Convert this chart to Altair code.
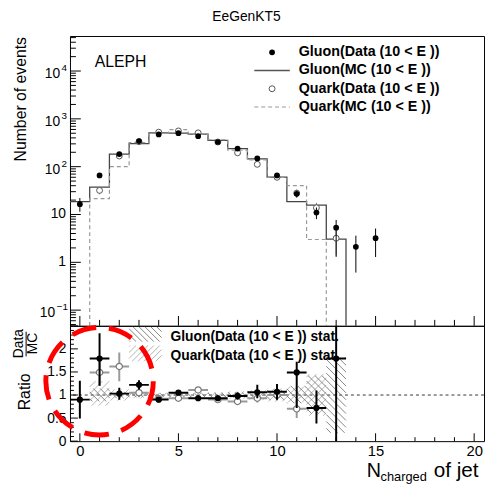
import math
import altair as alt
import pandas as pd

# ---------------------------------------------------------------
# Charged multiplicity of jets (10 < E), gluon and quark samples
# ---------------------------------------------------------------
gluon_data_n = list(range(0, 16))
gluon_data_val = [16.4, 65.6, 183, 343, 472, 501, 435, 328, 239, 149, 65.6, 27.1, 11.0, 5.3, 2.11, 3.19]
gluon_data_elo = [5.0, 7, 12, 17, 20, 21, 20, 17, 15, 12, 7, 4.5, 3.0, 4.0, 1.5, 1.9]
gluon_data_ehi = [5.7, 7, 12, 17, 20, 21, 20, 17, 15, 12, 7, 4.5, 3.0, 2.4, 1.5, 1.9]

quark_data_n = list(range(1, 14))
quark_data_val = [31.9, 167, 333, 526, 559, 509, 328, 195, 112, 60, 28, 13.8, 3.19]
quark_data_err = [5.5, 12, 18, 23, 23, 22, 18, 14, 10, 7.5, 5, 3.7, 1.8]

# MC histograms (bin n spans n-0.5 .. n+0.5)
gluon_mc_n = list(range(0, 14))
gluon_mc_val = [18.6, 37.2, 183, 302, 509, 501, 478, 355, 239, 145, 60.6, 18.6, 15.7, 3.04]
quark_mc_n = list(range(1, 13))
quark_mc_val = [21.4, 100, 317, 500, 597, 478, 365, 221, 138, 59.7, 40.3, 3.0]

# Data / MC ratios
gluon_ratio_n = list(range(0, 14))
gluon_ratio = [0.90, 1.79, 1.03, 1.22, 0.90, 1.05, 0.93, 0.93, 0.98, 1.06, 1.07, 1.49, 0.72, 1.79]
gluon_ratio_lo = [0.49, 1.20, 0.90, 1.12, 0.85, 1.00, 0.88, 0.87, 0.90, 0.93, 0.90, 0.72, 0.38, 0.0]
gluon_ratio_hi = [1.31, 2.34, 1.16, 1.32, 0.95, 1.10, 0.99, 0.99, 1.06, 1.22, 1.24, 1.72, 1.10, 3.0]
quark_ratio_n = list(range(1, 12))
quark_ratio = [1.49, 1.62, 1.05, 0.92, 0.93, 1.11, 0.90, 0.86, 0.93, 1.00, 0.70]
quark_ratio_lo = [1.20, 1.30, 0.95, 0.86, 0.88, 1.05, 0.84, 0.79, 0.84, 0.88, 0.50]
quark_ratio_hi = [1.80, 1.92, 1.15, 0.98, 0.98, 1.17, 0.96, 0.93, 1.02, 1.12, 0.90]

# MC statistical uncertainty bands around 1
gluon_band_n = list(range(1, 14))
gluon_band_lo = [0.86, 0.93, 0.95, 0.96, 0.96, 0.96, 0.95, 0.94, 0.92, 0.89, 0.82, 0.60, 0.18]
gluon_band_hi = [1.14, 1.07, 1.05, 1.04, 1.04, 1.04, 1.05, 1.06, 1.08, 1.11, 1.20, 1.42, 1.82]
quark_band_n = list(range(1, 13))
quark_band_lo = [0.77, 0.88, 0.93, 0.95, 0.95, 0.95, 0.94, 0.92, 0.90, 0.86, 0.84, 0.55]
quark_band_hi = [1.30, 1.12, 1.07, 1.05, 1.05, 1.05, 1.06, 1.08, 1.10, 1.14, 1.18, 1.45]

legend_labels = ["Gluon(Data (10 < E ))", "Gluon(MC (10 < E ))",
                 "Quark(Data (10 < E ))", "Quark(MC (10 < E ))"]
ratio_legend_labels = ["Gluon(Data (10 < E )) stat.", "Quark(Data (10 < E )) stat."]

# ---------------------------------------------------------------
# layout
# ---------------------------------------------------------------
W, H_TOP, H_RAT = 420, 294, 117
X_DOM = [-0.5, 20.5]
Y_TOP = [0.047, 54000]
Y_RAT = [0.0, 2.5]
FONT = "Liberation Sans"
SX = W / (X_DOM[1] - X_DOM[0])
SY = H_RAT / (Y_RAT[1] - Y_RAT[0])

xs = alt.Scale(domain=X_DOM, nice=False, zero=False)
yts = alt.Scale(type="log", domain=Y_TOP, nice=False)
yrs = alt.Scale(domain=Y_RAT, nice=False, zero=False)

x_axis = alt.Axis(values=[0, 5, 10, 15, 20], ticks=False, domain=False, grid=False,
                  labelFontSize=15, labelPadding=3, labelFlush=False, title=None,
                  labelColor="black")
y_axis = alt.Axis(values=[0, 0.5, 1, 1.5, 2], format="~g", ticks=False, domain=False,
                  grid=False, labelFontSize=14, labelPadding=4, title=None,
                  labelColor="black")


def X(f, **kw):
    return alt.X(f, type="quantitative", scale=xs, axis=None, **kw)


def XB(f, **kw):
    return alt.X(f, type="quantitative", scale=xs, axis=x_axis, **kw)


def YT(f, **kw):
    return alt.Y(f, type="quantitative", scale=yts, axis=None, **kw)


def YR(f, **kw):
    return alt.Y(f, type="quantitative", scale=yrs, axis=y_axis, **kw)


def pin():
    # fixes the outer corner of the drawing so both panels line up
    return alt.Chart(pd.DataFrame({"a": [0]})).mark_rule(strokeOpacity=0).encode(
        x=alt.value(-70), x2=alt.value(-70), y=alt.value(-32), y2=alt.value(-32))


def hatch(rects, step, rising):
    """Diagonal hatch segments (pixel space, y up) clipped to rectangles."""
    segs = []
    for (x0, x1, y0, y1) in rects:
        if rising:
            cmin, cmax = y0 - x1, y1 - x0
        else:
            cmin, cmax = y0 + x0, y1 + x1
        for k in range(math.ceil(cmin / step), math.floor(cmax / step) + 1):
            c = k * step
            if rising:
                a, b = max(x0, y0 - c), min(x1, y1 - c)
                if b > a:
                    segs.append((a, a + c, b, b + c))
            else:
                a, b = max(x0, c - y1), min(x1, c - y0)
                if b > a:
                    segs.append((a, c - a, b, c - b))
    return pd.DataFrame(
        [{"x": X_DOM[0] + s[0] / SX, "y": s[1] / SY,
          "x2": X_DOM[0] + s[2] / SX, "y2": s[3] / SY} for s in segs])


def band_rects(ns, lo, hi):
    return [((n - 0.5 - X_DOM[0]) * SX, (n + 0.5 - X_DOM[0]) * SX, l * SY, h * SY)
            for n, l, h in zip(ns, lo, hi)]


def hatch_layer(df, color):
    return alt.Chart(df).mark_rule(color=color, strokeWidth=0.9, clip=True).encode(
        x=XB("x"), x2="x2", y=YR("y"), y2="y2")


# ---------------------------------------------------------------
# upper panel: distributions
# ---------------------------------------------------------------
g_steps = pd.DataFrame({
    "i": list(range(len(gluon_mc_n) + 1)),
    "x": [n - 0.5 for n in gluon_mc_n] + [gluon_mc_n[-1] + 0.5],
    "y": gluon_mc_val + [Y_TOP[0]]})
q_steps = pd.DataFrame({
    "i": list(range(len(quark_mc_n) + 2)),
    "x": [quark_mc_n[0] - 0.5] + [n - 0.5 for n in quark_mc_n] + [quark_mc_n[-1] + 0.5],
    "y": [Y_TOP[0]] + quark_mc_val + [Y_TOP[0]]})

gdf = pd.DataFrame({"n": gluon_data_n, "v": gluon_data_val,
                    "lo": [v - e for v, e in zip(gluon_data_val, gluon_data_elo)],
                    "hi": [v + e for v, e in zip(gluon_data_val, gluon_data_ehi)]})
qdf = pd.DataFrame({"n": quark_data_n, "v": quark_data_val,
                    "lo": [v - e for v, e in zip(quark_data_val, quark_data_err)],
                    "hi": [v + e for v, e in zip(quark_data_val, quark_data_err)]})

g_line = alt.Chart(g_steps).mark_line(interpolate="step-after", color="#444", strokeWidth=1.3,
                                      clip=True).encode(x=X("x"), y=YT("y"), order="i:Q")
q_line = alt.Chart(q_steps).mark_line(interpolate="step-after", color="#999", strokeWidth=1.2,
                                      strokeDash=[4, 3], clip=True).encode(
    x=X("x"), y=YT("y"), order="i:Q")

q_err = alt.Chart(qdf).mark_rule(color="#777", strokeWidth=1, clip=True).encode(
    x=X("n"), y=YT("lo"), y2="hi")
q_pts = alt.Chart(qdf).mark_point(shape="circle", filled=True, fill="white", stroke="#555",
                                  strokeWidth=1, size=36, opacity=1).encode(x=X("n"), y=YT("v"))
g_err = alt.Chart(gdf).mark_rule(color="black", strokeWidth=1, clip=True).encode(
    x=X("n"), y=YT("lo"), y2="hi")
g_pts = alt.Chart(gdf).mark_point(shape="circle", filled=True, color="black", size=34,
                                  opacity=1).encode(x=X("n"), y=YT("v"))

# axis furniture: inward ticks
log_major = [10.0 ** e for e in range(-1, 5)]
log_minor = [m * 10.0 ** e for e in range(-2, 5) for m in range(2, 10)
             if Y_TOP[0] <= m * 10.0 ** e <= Y_TOP[1]]
x_major = [v for v in range(0, 21, 5)]
x_minor = [v for v in range(0, 21) if v % 5]

top_ticks = [
    alt.Chart(pd.DataFrame({"v": log_major})).mark_rule(color="black").encode(
        y=YT("v"), x=alt.value(0), x2=alt.value(11)),
    alt.Chart(pd.DataFrame({"v": log_minor})).mark_rule(color="black").encode(
        y=YT("v"), x=alt.value(0), x2=alt.value(6)),
    alt.Chart(pd.DataFrame({"v": x_major})).mark_rule(color="black").encode(
        x=X("v"), y=alt.value(H_TOP), y2=alt.value(H_TOP - 10)),
    alt.Chart(pd.DataFrame({"v": x_minor})).mark_rule(color="black").encode(
        x=X("v"), y=alt.value(H_TOP), y2=alt.value(H_TOP - 6)),
]

# log axis labels: mantissa "10" with a raised exponent
ylab = pd.DataFrame({"v": log_major,
                     "base": ["10", "1", "10", "10", "10", "10"],
                     "sup": ["\u22121", "", "", "2", "3", "4"]})
top_labels = [
    alt.Chart(ylab).transform_filter("datum.sup == ''").mark_text(
        align="right", baseline="middle", fontSize=14).encode(
        y=YT("v"), x=alt.value(-4), text="base:N"),
    alt.Chart(ylab).transform_filter("length(datum.sup) == 1").mark_text(
        align="right", baseline="middle", fontSize=14, dy=3).encode(
        y=YT("v"), x=alt.value(-10), text="base:N"),
    alt.Chart(ylab).transform_filter("length(datum.sup) == 1").mark_text(
        align="right", baseline="middle", fontSize=10, dy=-3).encode(
        y=YT("v"), x=alt.value(-3), text="sup:N"),
    alt.Chart(ylab).transform_filter("length(datum.sup) == 2").mark_text(
        align="right", baseline="middle", fontSize=14, dy=3).encode(
        y=YT("v"), x=alt.value(-15), text="base:N"),
    alt.Chart(ylab).transform_filter("length(datum.sup) == 2").mark_text(
        align="right", baseline="middle", fontSize=10, dy=-3).encode(
        y=YT("v"), x=alt.value(-2), text="sup:N"),
]

one = pd.DataFrame({"a": [0]})
top_text = [
    alt.Chart(one).mark_text(align="center", baseline="alphabetic", fontSize=14).encode(
        x=alt.value(179), y=alt.value(-15), text=alt.value("EeGenKT5")),
    alt.Chart(one).mark_text(align="left", baseline="alphabetic", fontSize=16).encode(
        x=alt.value(25), y=alt.value(31), text=alt.value("ALEPH")),
    alt.Chart(one).mark_text(align="right", baseline="middle", angle=270, fontSize=16).encode(
        x=alt.value(-50), y=alt.value(1), text=alt.value("Number of events")),
]

# legend
leg_y = [16.5, 35, 53.5, 72]
top_legend = [
    alt.Chart(one).mark_point(shape="circle", filled=True, color="black", size=34, opacity=1).encode(
        x=alt.value(205), y=alt.value(leg_y[0])),
    alt.Chart(one).mark_rule(color="#555", strokeWidth=1.3).encode(
        x=alt.value(187), x2=alt.value(223), y=alt.value(leg_y[1])),
    alt.Chart(one).mark_point(shape="circle", filled=True, fill="white", stroke="#555",
                              strokeWidth=1, size=36, opacity=1).encode(
        x=alt.value(205), y=alt.value(leg_y[2])),
    alt.Chart(one).mark_rule(color="#999", strokeWidth=1.2, strokeDash=[4, 3]).encode(
        x=alt.value(187), x2=alt.value(223), y=alt.value(leg_y[3])),
]
for lab, yy in zip(legend_labels, leg_y):
    top_legend.append(
        alt.Chart(one).mark_text(align="left", baseline="middle", fontSize=14.5,
                                 fontWeight="bold").encode(
            x=alt.value(232), y=alt.value(yy), text=alt.value(lab)))

top = alt.layer(pin(), g_line, q_line, q_err, q_pts, g_err, g_pts,
                *top_ticks, *top_labels, *top_text, *top_legend).properties(
    width=W, height=H_TOP)

# ---------------------------------------------------------------
# lower panel: Data / MC
# ---------------------------------------------------------------
g_hatch = hatch(band_rects(gluon_band_n, gluon_band_lo, gluon_band_hi), 7, False)
q_hatch = hatch(band_rects(quark_band_n, quark_band_lo, quark_band_hi), 7, True)

# legend boxes (pixel rectangles, y measured from the panel bottom)
g_box = hatch([(60, 93, H_RAT - 16, H_RAT - 1)], 6, False)
q_box = hatch([(60, 93, H_RAT - 36, H_RAT - 20)], 6, True)

grdf = pd.DataFrame({"n": gluon_ratio_n, "r": gluon_ratio,
                     "lo": gluon_ratio_lo, "hi": gluon_ratio_hi})
qrdf = pd.DataFrame({"n": quark_ratio_n, "r": quark_ratio,
                     "lo": quark_ratio_lo, "hi": quark_ratio_hi})

ref_line = alt.Chart(pd.DataFrame({"r": [1.0]})).mark_rule(
    color="#333", strokeWidth=1, strokeDash=[3, 3]).encode(y=YR("r"))

q_rv = alt.Chart(qrdf).mark_rule(color="#999", strokeWidth=2, clip=True).encode(
    x=XB("n"), y=YR("lo"), y2="hi")
q_rh = alt.Chart(qrdf).transform_calculate(a="datum.n - 0.5", b="datum.n + 0.5").mark_rule(
    color="#999", strokeWidth=2, clip=True).encode(x=XB("a"), x2="b", y=YR("r"))
q_rp = alt.Chart(qrdf).mark_point(shape="circle", filled=True, fill="white", stroke="#777",
                                  strokeWidth=1.2, size=40, opacity=1).encode(
    x=XB("n"), y=YR("r"))
g_rv = alt.Chart(grdf).mark_rule(color="black", strokeWidth=2, clip=True).encode(
    x=XB("n"), y=YR("lo"), y2="hi")
g_rh = alt.Chart(grdf).transform_calculate(a="datum.n - 0.5", b="datum.n + 0.5").mark_rule(
    color="black", strokeWidth=2, clip=True).encode(x=XB("a"), x2="b", y=YR("r"))
g_rp = alt.Chart(grdf).mark_point(shape="circle", filled=True, color="black", size=40,
                                  opacity=1).encode(x=XB("n"), y=YR("r"))

r_major = [0, 0.5, 1, 1.5, 2, 2.5]
r_minor = [round(i * 0.1, 1) for i in range(1, 25) if i % 5]
rat_ticks = [
    alt.Chart(pd.DataFrame({"v": r_major})).mark_rule(color="black").encode(
        y=YR("v"), x=alt.value(0), x2=alt.value(8)),
    alt.Chart(pd.DataFrame({"v": r_minor})).mark_rule(color="black").encode(
        y=YR("v"), x=alt.value(0), x2=alt.value(4)),
    alt.Chart(pd.DataFrame({"v": x_major})).mark_rule(color="black").encode(
        x=XB("v"), y=alt.value(H_RAT), y2=alt.value(H_RAT - 8)),
    alt.Chart(pd.DataFrame({"v": x_minor})).mark_rule(color="black").encode(
        x=XB("v"), y=alt.value(H_RAT), y2=alt.value(H_RAT - 4)),
]

rat_text = [
    alt.Chart(one).mark_text(align="left", baseline="middle", fontSize=14,
                             fontWeight="bold").encode(
        x=alt.value(102), y=alt.value(11.5), text=alt.value(ratio_legend_labels[0])),
    alt.Chart(one).mark_text(align="left", baseline="middle", fontSize=14,
                             fontWeight="bold").encode(
        x=alt.value(102), y=alt.value(31), text=alt.value(ratio_legend_labels[1])),
    # y title: Ratio  Data/MC
    alt.Chart(one).mark_text(align="center", baseline="middle", angle=270, fontSize=16).encode(
        x=alt.value(-46), y=alt.value(67), text=alt.value("Ratio")),
    alt.Chart(one).mark_text(align="center", baseline="middle", angle=270, fontSize=14).encode(
        x=alt.value(-52), y=alt.value(18), text=alt.value("Data")),
    alt.Chart(one).mark_text(align="center", baseline="middle", angle=270, fontSize=14).encode(
        x=alt.value(-37), y=alt.value(18), text=alt.value("MC")),
    alt.Chart(one).mark_rule(color="black", strokeWidth=1).encode(
        x=alt.value(-44.5), y=alt.value(6), y2=alt.value(31)),
    # x title: N_charged of jet
    alt.Chart(one).mark_text(align="left", baseline="alphabetic", fontSize=20).encode(
        x=alt.value(301), y=alt.value(153), text=alt.value("N")),
    alt.Chart(one).mark_text(align="left", baseline="alphabetic", fontSize=13).encode(
        x=alt.value(315), y=alt.value(157), text=alt.value("charged")),
    alt.Chart(one).mark_text(align="left", baseline="alphabetic", fontSize=21).encode(
        x=alt.value(369), y=alt.value(153), text=alt.value("of jet")),
]

# red dashed highlight around the low-multiplicity bins
ring = alt.Chart(pd.DataFrame({"n": [1.0], "r": [1.30]})).mark_point(
    shape="circle", filled=False, color="#ff0000", strokeWidth=5, size=11881,
    strokeDash=[25, 13], opacity=1, clip=False).encode(x=XB("n"), y=YR("r"))

bottom = alt.layer(
    ref_line,
    hatch_layer(q_hatch, "#aaaaaa"), hatch_layer(g_hatch, "#777777"),
    hatch_layer(g_box, "#777777"), hatch_layer(q_box, "#aaaaaa"),
    q_rv, q_rh, q_rp, g_rv, g_rh, g_rp,
    *rat_ticks, *rat_text, ring,
).properties(width=W, height=H_RAT)

chart = alt.vconcat(top, bottom, spacing=0, bounds="flush").properties(
    padding={"left": 0, "top": 0, "right": 0, "bottom": 0}
).configure(font=FONT).configure_view(stroke="black", strokeWidth=1)

chart.save("out.html", embed_options={"renderer": "svg", "actions": False})
